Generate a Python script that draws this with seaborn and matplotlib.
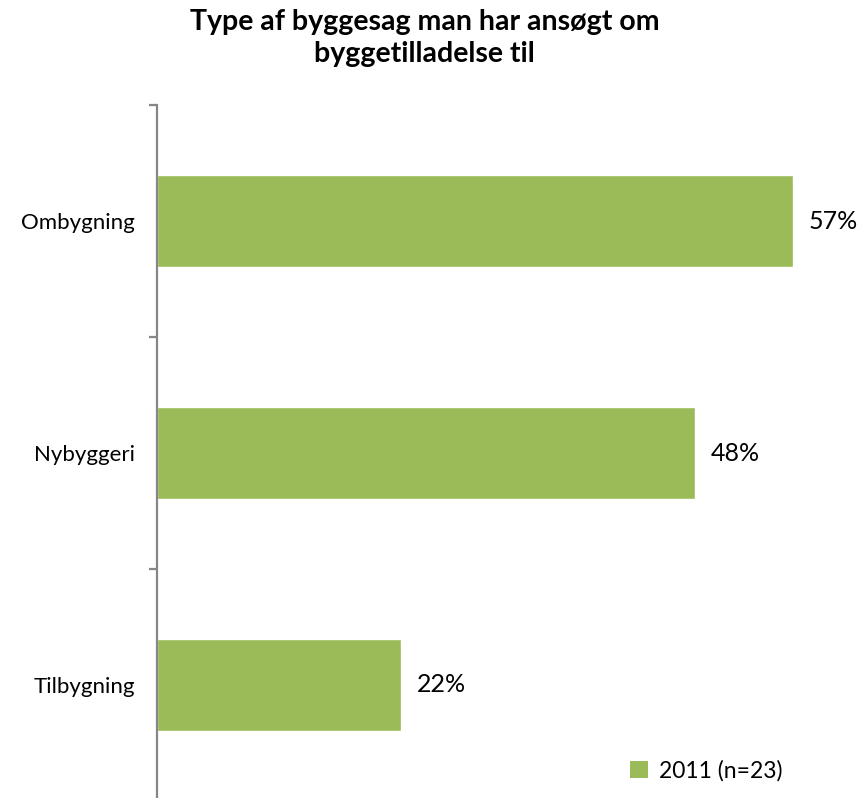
import matplotlib
matplotlib.use("Agg")
import matplotlib.pyplot as plt
import seaborn as sns
import pandas as pd
from matplotlib.patches import Patch

categories = ["Ombygning", "Nybyggeri", "Tilbygning"]
values = [0.565, 0.478, 0.217]
value_labels = ["57%", "48%", "22%"]
series_name = "2011 (n=23)"
title = "Type af byggesag man har ansøgt om\nbyggetilladelse til"

sns.set_theme(style="white")
plt.rcParams["font.family"] = ["Lato", "DejaVu Sans"]
plt.rcParams["text.color"] = "#000000"

green = "#9BBB59"
df = pd.DataFrame({"kategori": categories, "andel": values})

fig = plt.figure(figsize=(8.59, 7.98), dpi=100)
ax = fig.add_axes([157 / 859, -3 / 798, 698 / 859, (801 - 105) / 798])
sns.barplot(data=df, x="andel", y="kategori", orient="h", color=green,
            saturation=1, width=0.395, ax=ax)
ax.set_ylim(2.5, -0.5)
ax.set_xlim(0, 0.62)
ax.set_xlabel("")
ax.set_ylabel("")
ax.set_xticks([])
for s in ["top", "right", "bottom"]:
    ax.spines[s].set_visible(False)
ax.spines["left"].set_color("#868686")
ax.spines["left"].set_linewidth(1.6)
ax.spines["left"].set_zorder(5)
ax.set_yticks(range(len(categories)))
ax.set_yticklabels(categories, fontsize=16, color="#000000")
ax.tick_params(axis="y", which="major", length=0, pad=16)
ax.set_yticks([-0.5, 0.5, 1.5, 2.5], minor=True)
ax.tick_params(axis="y", which="minor", length=5.5, width=1.6, color="#868686", left=True)

ax.bar_label(ax.containers[0], labels=value_labels, padding=11, fontsize=18, color="#000000")

fig.text(0.494, 0.952, title, ha="center", va="center", fontsize=20.5,
         fontweight="bold", linespacing=1.3, color="#000000")

handles = [Patch(facecolor=green, edgecolor="none", label=series_name)]
fig.legend(handles=handles, loc="lower right", bbox_to_anchor=(0.935, -0.005),
           frameon=False, fontsize=16.5, handlelength=0.75, handleheight=0.75,
           handletextpad=0.5, labelcolor="#000000")

fig.savefig("out.png", dpi=100)
